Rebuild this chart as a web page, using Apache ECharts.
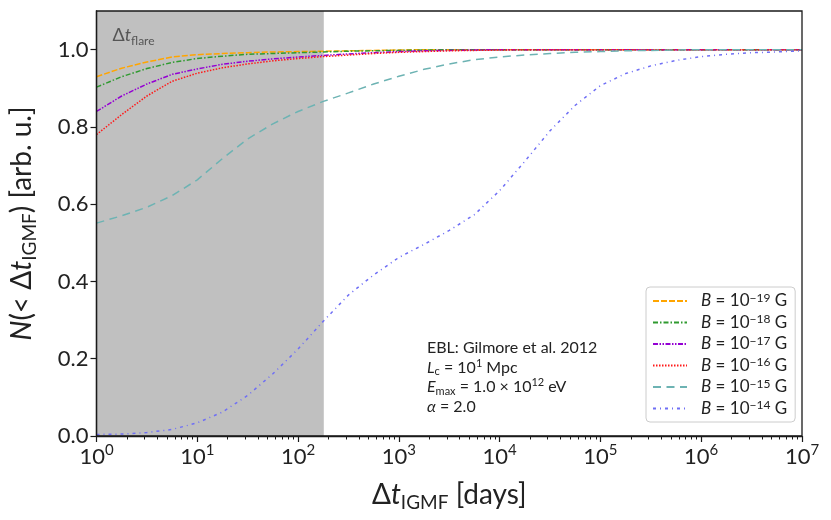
<!DOCTYPE html>
<html><head><meta charset="utf-8">
<script src="https://cdn.jsdelivr.net/npm/echarts@6/dist/echarts.min.js"></script>
<style>html,body{margin:0;padding:0;background:#fff}#c{width:831px;height:520px}</style>
</head><body><div id="c"></div>
<script>
// sample positions: log10(days)
const logDays = [0,0.25,0.5,0.75,1,1.25,1.5,1.75,2,2.25,2.5,2.75,3,3.25,3.5,3.75,4,4.25,4.5,4.75,5,5.25,5.5,5.75,6,6.25,6.5,6.75,7];
const fieldExponents = ['−19','−18','−17','−16','−15','−14'];
const seriesNames = ['B1e-19','B1e-18','B1e-17','B1e-16','B1e-15','B1e-14'];
const b19 = [0.930,0.952,0.968,0.981,0.987,0.990,0.992,0.994,0.995,0.996,0.997,0.998,0.999,1,1,1,1,1,1,1,1,1,1,1,1,1,1,1,1];
const b18 = [0.903,0.930,0.951,0.967,0.977,0.983,0.988,0.990,0.992,0.994,0.996,0.997,0.998,0.999,1,1,1,1,1,1,1,1,1,1,1,1,1,1,1];
const b17 = [0.840,0.880,0.911,0.936,0.950,0.962,0.970,0.976,0.981,0.985,0.989,0.992,0.995,0.997,0.998,0.999,1,1,1,1,1,1,1,1,1,1,1,1,1];
const b16 = [0.780,0.832,0.880,0.918,0.939,0.953,0.963,0.971,0.977,0.982,0.986,0.990,0.993,0.995,0.997,0.998,0.999,1,1,1,1,1,1,1,1,1,1,1,1];
const b15 = [0.551,0.570,0.592,0.622,0.663,0.718,0.769,0.808,0.840,0.866,0.888,0.911,0.931,0.949,0.963,0.974,0.981,0.986,0.990,0.993,0.995,0.997,0.998,0.999,1,1,1,1,1];
const b14 = [0.004,0.005,0.009,0.017,0.034,0.062,0.105,0.161,0.225,0.297,0.365,0.417,0.462,0.496,0.532,0.573,0.635,0.711,0.790,0.856,0.907,0.938,0.958,0.972,0.982,0.988,0.992,0.994,0.997];
const yTicks = [0,0.2,0.4,0.6,0.8,1.0];
const xDecades = [0,1,2,3,4,5,6,7];
const flareStart = 1, flareEnd = 180;
const colors = ['#ffa500','#2f9a2f','#9400d3','#ff1a1a','#6db3b3','#6f6ff5'];
const dashes = [[6,2],[5,2,1.5,2],[5,1.5,1.5,1.5,1.5,1.5],[1.5,1.5],[8,5.5],[3,4,1,4]];
const allValues = [b19,b18,b17,b16,b15,b14];

const FONT = 'Lato';
const INK = '#1a1a1a';
function rich(size, color){
  const s = Math.round(size*0.68);
  return {
    n:{fontFamily:FONT,fontSize:size,lineHeight:Math.round(size*1.25),color:color},
    it:{fontFamily:FONT,fontSize:size,fontStyle:'italic',lineHeight:Math.round(size*1.25),color:color},
    sub:{fontFamily:FONT,fontSize:s,lineHeight:s,verticalAlign:'bottom',color:color},
    sup:{fontFamily:FONT,fontSize:s,lineHeight:s,verticalAlign:'top',color:color},
    g:{width:9,fontSize:size}
  };
}
const minorTicks = [];
for (let d = 0; d < 7; d++) for (let k = 2; k <= 9; k++) minorTicks.push(k*Math.pow(10,d));

const chart = echarts.init(document.getElementById('c'), null, {renderer:'canvas'});
const lineSeries = allValues.map((vals,i)=>({
  name: seriesNames[i], type:'line', showSymbol:false, symbol:'none', z:3,
  xAxisIndex:0, yAxisIndex:0,
  lineStyle:{color:colors[i], width:1.5, type:dashes[i]},
  itemStyle:{color:colors[i]},
  data: logDays.map((e,j)=>[Math.pow(10,e), vals[j]])
}));
const legendRich = rich(17,'#222');
legendRich.n.lineHeight = 18; legendRich.it.lineHeight = 18;
const option = {
  animation:false,
  grid:{left:96,right:29,top:11,bottom:84,show:true,borderColor:INK,borderWidth:1.3,backgroundColor:'transparent',z:10},
  xAxis:[{
    type:'log', logBase:10, min:1, max:1e7, z:10,
    axisLine:{show:true,lineStyle:{color:INK,width:1.3}},
    axisTick:{show:true,inside:false,length:6,lineStyle:{color:INK,width:1.2},
      customValues: xDecades.map(e=>Math.pow(10,e))},
    axisLabel:{margin:7, customValues: xDecades.map(e=>Math.pow(10,e)),
      formatter:v=>'{n|10}{sup|'+Math.round(Math.log10(v))+'}', rich:rich(22,'#222')},
    splitLine:{show:false},
    name:'{n|Δ}{it|t}{sub|IGMF}{n| [days]}', nameLocation:'middle', nameGap:41,
    nameTextStyle:{rich:rich(28,'#222')}
  },{
    type:'log', logBase:10, min:1, max:1e7, gridIndex:0, position:'bottom', z:10,
    axisLine:{show:false}, axisLabel:{show:false}, splitLine:{show:false},
    axisTick:{show:true,inside:false,length:3.5,lineStyle:{color:INK,width:1},customValues:minorTicks}
  }],
  yAxis:{
    type:'value', min:0, max:1.1, z:10,
    axisLine:{show:true,lineStyle:{color:INK,width:1.3}},
    axisTick:{show:true,inside:false,length:6,lineStyle:{color:INK,width:1.2},customValues:yTicks},
    axisLabel:{margin:8,customValues:yTicks,formatter:v=>v.toFixed(1),fontFamily:FONT,fontSize:22,color:'#222'},
    splitLine:{show:false},
    name:'{it|N}{n|(< Δ}{it|t}{sub|IGMF}{n|) [arb. u.]}', nameLocation:'middle', nameGap:57,
    nameTextStyle:{rich:rich(28,'#222')}
  },
  legend:{
    orient:'vertical', left:646, top:287, itemWidth:34, itemHeight:14, itemGap:4,
    padding:[5,8,5,6], borderColor:'#cccccc', borderWidth:1, borderRadius:4, backgroundColor:'#fff',
    data: seriesNames,
    itemStyle:{opacity:0},
    formatter: name => '{g|}{it|B}{n| = 10}{sup|'+fieldExponents[seriesNames.indexOf(name)]+'}{n| G}',
    textStyle:{fontFamily:FONT,fontSize:17,color:'#222',rich:legendRich}
  },
  graphic:[{
    type:'text', left:427, top:340, z:20,
    style:{
      text:'{n|EBL: Gilmore et al. 2012}\n{it|L}{sub|c}{n| = 10}{sup|1}{n| Mpc}\n{it|E}{sub|max}{n| = 1.0 × 10}{sup|12}{n| eV}\n{it|α}{n| = 2.0}',
      rich:(()=>{const r=rich(16,'#222');r.n.lineHeight=19.5;r.it.lineHeight=19.5;return r;})(),
      font:'16px '+FONT, fill:'#222'
    }
  }],
  series:[{
    name:'flare', type:'line', data:[], z:1, silent:true,
    markArea:{silent:true, itemStyle:{color:'#c0c0c0'},
      label:{show:true, position:'insideTopLeft', offset:[11,8],
        formatter:'{n|Δ}{it|t}{sub|flare}', rich:rich(18,'#555')},
      data:[[{xAxis:flareStart},{xAxis:flareEnd}]]}
  }].concat(lineSeries)
};
chart.setOption(option);
</script></body></html>
